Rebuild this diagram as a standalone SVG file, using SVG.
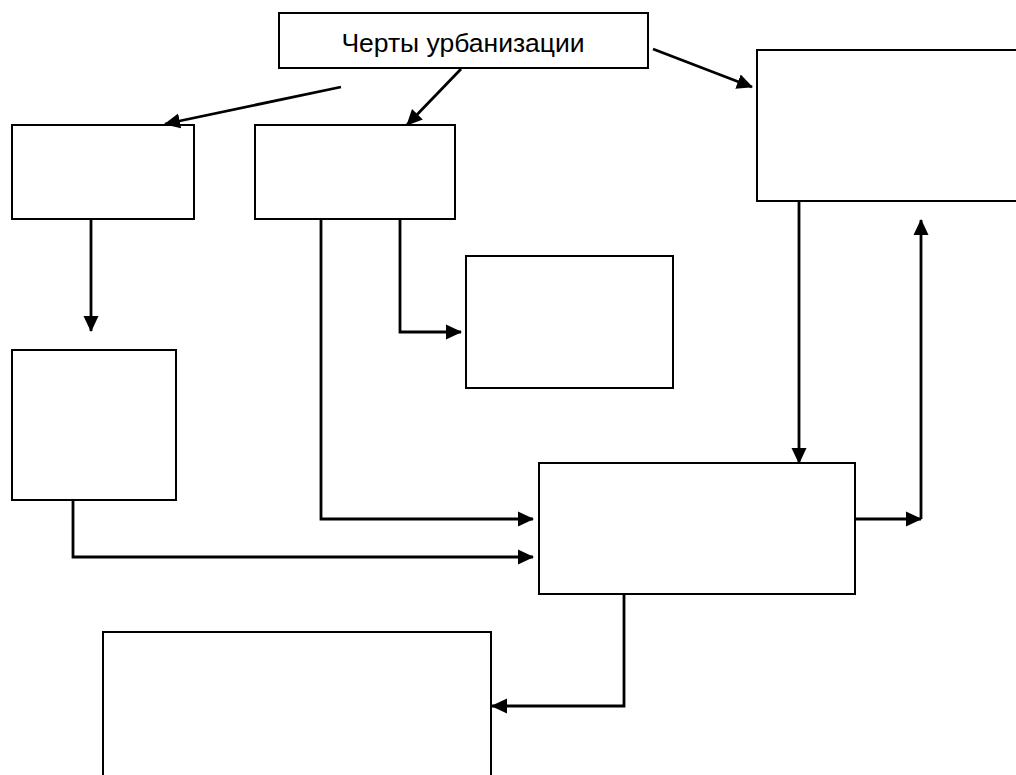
<svg xmlns="http://www.w3.org/2000/svg" width="1016" height="775" viewBox="0 0 1016 775">
<style>
.box{fill:#fff;stroke:#000;stroke-width:2}
.con{fill:none;stroke:#000;stroke-width:2.8;marker-end:url(#arr)}
.lbl{font-family:"Liberation Sans",Arial,sans-serif;font-size:26.5px;fill:#000}
</style>
<defs>
<marker id="arr" viewBox="0 0 16 16" markerUnits="userSpaceOnUse" markerWidth="16" markerHeight="16" refX="15" refY="8" orient="auto">
<path d="M0,0.5 L16,8 L0,15.5 z" fill="#000"/>
</marker>
</defs>
<rect width="1016" height="775" fill="#fff"/>
<g id="title"><rect class="box" x="279" y="13" width="369" height="55"/><text class="lbl" x="463" y="52" text-anchor="middle">Черты урбанизации</text></g>
<g id="box1"><rect class="box" x="12" y="125" width="182" height="94"/></g>
<g id="box2"><rect class="box" x="255" y="125" width="200" height="94"/></g>
<g id="box-right"><rect class="box" x="757" y="50" width="280" height="151"/></g>
<g id="box4"><rect class="box" x="466" y="256" width="207" height="132"/></g>
<g id="box3"><rect class="box" x="12" y="350" width="164" height="150"/></g>
<g id="box-mid"><rect class="box" x="539" y="463" width="316" height="131"/></g>
<g id="box-bottom"><rect class="box" x="103" y="632" width="388" height="170"/></g>
<g id="connectors">
<path class="con" d="M341,87 L165,124"/>
<path class="con" d="M461,69 L407,125"/>
<path class="con" d="M653,49 L752,87"/>
<path class="con" d="M91,219 V331"/>
<path class="con" d="M400,219 V332 H461"/>
<path class="con" d="M321,219 V519 H533"/>
<path class="con" d="M73,500 V557 H533"/>
<path class="con" d="M799,201 V463"/>
<path class="con" d="M855,519 H921"/>
<path class="con" d="M921,519 V220"/>
<path class="con" d="M624,594 V706 H492"/>
</g>
</svg>
